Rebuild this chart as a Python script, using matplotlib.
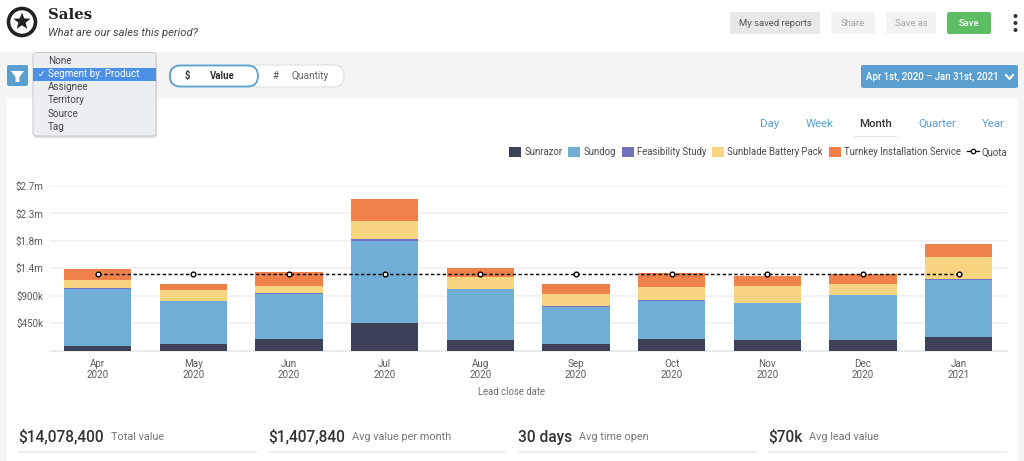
import matplotlib
matplotlib.use("Agg")
import matplotlib.pyplot as plt
from matplotlib.patches import Rectangle, FancyBboxPatch, Circle, Polygon
from matplotlib.lines import Line2D
import numpy as np

plt.rcParams['font.family'] = ['Roboto', 'DejaVu Sans']

months = ["Apr\n2020", "May\n2020", "Jun\n2020", "Jul\n2020", "Aug\n2020",
          "Sep\n2020", "Oct\n2020", "Nov\n2020", "Dec\n2020", "Jan\n2021"]
sunrazor = [82, 110, 197, 454, 170, 110, 186, 170, 181, 224]
sundog = [930, 700, 733, 1346, 837, 602, 629, 607, 728, 935]
feasibility = [11, 11, 16, 38, 6, 16, 11, 11, 11, 11]
sunblade = [142, 175, 110, 295, 202, 202, 213, 268, 175, 367]
turnkey = [175, 93, 230, 356, 137, 159, 230, 175, 159, 213]
quota = [1253] * 10
y_ticks = [450, 900, 1350, 1800, 2250, 2700]
y_labels = ["$450k", "$900k", "$1.4m", "$1.8m", "$2.3m", "$2.7m"]
series = [("Sunrazor", sunrazor, "#3d4158"), ("Sundog", sundog, "#70aed6"),
          ("Feasibility Study", feasibility, "#7470c0"),
          ("Sunblade Battery Pack", sunblade, "#f7d47f"),
          ("Turnkey Installation Service", turnkey, "#f1814b")]
stats = [("$14,078,400", "Total value"), ("$1,407,840", "Avg value per month"),
         ("30 days", "Avg time open"), ("$70k", "Avg lead value")]
tabs = ["Day", "Week", "Month", "Quarter", "Year"]
menu = ["None", "Segment by: Product", "Assignee", "Territory", "Source", "Tag"]

W, H = 1024, 461
fig = plt.figure(figsize=(W / 100, H / 100), dpi=100, facecolor="#f5f5f5")

# page background
bg = fig.add_axes([0, 0, 1, 1], zorder=0)
bg.set_xlim(0, W); bg.set_ylim(H, 0); bg.axis("off")
bg.add_patch(Rectangle((0, 0), W, 52, fc="white", ec="none"))
bg.add_patch(Rectangle((7, 99), 1011, 362, fc="white", ec="none"))

# chart
ax = fig.add_axes([49.9 / W, 1 - 350.7 / H, (1006.5 - 49.9) / W, (350.7 - 186) / H], zorder=1)
ax.patch.set_alpha(0)
x = np.arange(len(months))
bottom = np.zeros(len(months))
handles = []
for name, vals, col in series:
    b = ax.bar(x, vals, width=0.704, bottom=bottom, color=col, label=name, zorder=3, linewidth=0)
    handles.append(b)
    bottom += np.array(vals)
ax.plot(x, quota, color="black", lw=1.05, ls=(0, (2.3, 1.7)), marker="o", ms=3.4, mfc="white",
        mec="black", mew=1.0, zorder=4)
handles.append(Line2D([], [], color="black", lw=0.9, marker="o", ms=3.2, mfc="white", mec="black",
                      mew=0.9, label="Quota"))
ax.set_xlim(-0.5, 9.5)
ax.set_ylim(0, 2700)
ax.set_yticks(y_ticks, y_labels)
ax.set_xticks(x, months)
ax.grid(axis="y", color="#f0f0f0", lw=1.2, zorder=0)
ax.set_axisbelow(True)
for s in ["top", "right", "left"]:
    ax.spines[s].set_visible(False)
ax.spines["bottom"].set_color("#e8e8e8")
ax.spines["bottom"].set_linewidth(1.2)
ax.tick_params(axis="both", length=0, labelsize=7.1, labelcolor="#5c5c5c")
ax.tick_params(axis="x", pad=6.3)
ax.tick_params(axis="y", pad=4.5)
for t in ax.get_xticklabels():
    t.set_linespacing(1.1)
ax.set_xlabel("Lead close date", fontsize=6.9, color="#6e6e6e")
ax.xaxis.set_label_coords((512 - 49.9) / (1006.5 - 49.9), -(383 - 350.7 + 4) / (350.7 - 186))
leg = ax.legend(handles=handles, loc="upper right", bbox_to_anchor=(1007.5 / W, 1 - 147 / H),
                bbox_transform=fig.transFigure, ncol=6, frameon=False, fontsize=6.95, labelcolor="#4a4a4a",
                handlelength=1.24, handleheight=1.24, handletextpad=0.31, columnspacing=0.63,
                borderpad=0, borderaxespad=0)

# interface
ui = fig.add_axes([0, 0, 1, 1], zorder=2)
ui.set_xlim(0, W); ui.set_ylim(H, 0); ui.axis("off"); ui.patch.set_alpha(0)

def box(x0, y0, x1, y1, fc, ec="none", r=2, lw=1, z=2, **kw):
    p = FancyBboxPatch((x0 + r, y0 + r), x1 - x0 - 2 * r, y1 - y0 - 2 * r,
                       boxstyle=f"round,pad={r},rounding_size={r}", fc=fc, ec=ec, lw=lw, zorder=z, **kw)
    ui.add_patch(p)
    return p

def label(x0, y0, s, size=7.2, color="#333333", ha="left", weight="normal", z=5, **kw):
    ui.text(x0, y0, s, fontsize=size, color=color, ha=ha, va="center", weight=weight, zorder=z, **kw)

# header
ui.add_patch(Circle((22, 22), 13.5, fc="white", ec="#222222", lw=2.6, zorder=3))
ui.add_patch(Polygon([(22 + r * np.sin(a), 21.5 - r * np.cos(a)) for a, r in
                      zip(np.arange(10) * np.pi / 5, [9, 3.8] * 5)], fc="#222222", ec="none", zorder=4))
label(48, 15, "Sales", size=10.7, color="#222222", weight="bold", family="DejaVu Serif")
label(48, 33, "What are our sales this period?", size=8.1, color="#444444", style="italic")

box(730, 12, 820, 34, "#e8e8e8")
label(775, 23, "My saved reports", size=6.8, color="#555555", ha="center")
box(831, 12, 875, 34, "#f2f2f2")
label(853, 23, "Share", size=6.8, color="#a3a3a3", ha="center")
box(886, 12, 936, 34, "#f2f2f2")
label(911, 23, "Save as", size=6.8, color="#a3a3a3", ha="center")
box(947, 12, 991, 34, "#5cbd63")
label(969, 23, "Save", size=6.8, color="white", ha="center", weight="medium")
for yy in (16, 23, 30):
    ui.add_patch(Circle((1015.5, yy), 2, fc="#333333", ec="none", zorder=3))

# toolbar
box(7, 65, 28, 86, "#5a9fcf")
ui.add_patch(Polygon([(11, 71), (24, 71), (19.5, 77), (19.5, 82), (15.5, 82), (15.5, 77)], fc="white", ec="none", zorder=4))
box(169, 65, 344, 87, "white", ec="#e4e4e4", r=10.9)
box(170, 65.5, 258, 86.5, "white", ec="#5aa2d4", r=10.5, lw=1.3, z=3)
label(187, 76, "$", size=6.9, ha="center", weight="bold")
label(222, 76, "Value", size=6.9, ha="center", weight="bold")
label(275, 76, "#", size=6.9, ha="center", color="#555555")
label(310, 76, "Quantity", size=7.3, ha="center", color="#666666")
box(861, 65, 1018, 88, "#5a9fcf")
label(866, 76.5, "Apr 1st, 2020 – Jan 31st, 2021", size=6.95, color="white", weight="medium")
ui.plot([1006, 1009.5, 1013], [75, 79, 75], color="white", lw=1.5, zorder=5)

# dropdown
box(34, 54, 157, 138, "#bbbbbb", r=3, z=5, alpha=0.45)
box(33, 52.5, 156, 136, "#ebeff1", ec="#c8c8c8", r=3, lw=0.7, z=6)
ui.add_patch(Rectangle((33, 68), 123, 13.5, fc="#4c8fe6", ec="none", zorder=7))
for i, m in enumerate(menu):
    label(48, 61.3 + i * 13.05, m, size=7.15, color="white" if i == 1 else "#444444", z=8)
label(37.5, 74.5, "✓", size=6.5, color="white", z=8, family="DejaVu Sans")

# range tabs
tab_x = [770, 820, 875, 937, 993]
for tx, t in zip(tab_x, tabs):
    sel = t == "Month"
    label(tx, 124, t, size=8.2, ha="center", color="#333333" if sel else "#5a9fcf", weight="medium" if sel else "normal")
ui.plot([854, 896], [136, 136], color="#e6e6e6", lw=1, zorder=3)

# stats
stat_x = [18, 268, 518, 768]
for sx, (big, small) in zip(stat_x, stats):
    t = ui.text(sx, 437, big, fontsize=11.2, color="#333333", weight="medium", va="center", zorder=5)
    fig.canvas.draw()
    bb = t.get_window_extent()
    label(bb.x1 + 7, 437, small, size=7.8, color="#777777")
    ui.add_patch(Rectangle((sx, 450.5), 239, 2, fc="#eeeeee", ec="none", zorder=3))

fig.savefig("out.png", dpi=100, facecolor=fig.get_facecolor())
